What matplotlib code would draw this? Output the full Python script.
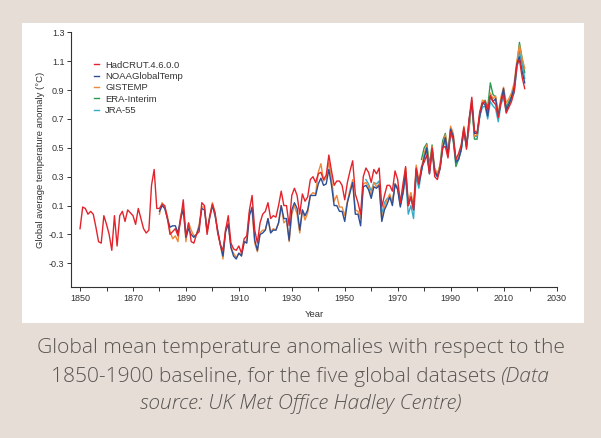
import matplotlib
matplotlib.use("Agg")
import matplotlib.pyplot as plt
from matplotlib.patches import Rectangle

# annual anomalies relative to 1850-1900 (°C)
had_years = list(range(1850, 2019))
hadcrut = [-0.06, 0.09, 0.08, 0.04, 0.06, 0.04, -0.05, -0.15, -0.16, 0.03,
           -0.03, -0.10, -0.21, 0.03, -0.18, 0.03, 0.06, -0.01, 0.07, 0.05,
           0.03, -0.03, 0.08, 0.01, -0.06, -0.09, -0.07, 0.24, 0.35, 0.08,
           0.08, 0.11, 0.10, 0.01, -0.10, -0.08, -0.06, -0.11, 0.00, 0.14,
           -0.11, -0.02, -0.15, -0.16, -0.10, -0.08, 0.12, 0.10, -0.10, 0.02,
           0.11, 0.05, -0.09, -0.17, -0.21, -0.07, 0.03, -0.16, -0.20, -0.21,
           -0.18, -0.23, -0.13, -0.11, 0.07, 0.17, -0.07, -0.16, -0.02, 0.04,
           0.06, 0.12, 0.01, 0.03, 0.02, 0.10, 0.20, 0.10, 0.10, -0.04,
           0.17, 0.22, 0.17, 0.04, 0.18, 0.13, 0.16, 0.28, 0.30, 0.26,
           0.32, 0.33, 0.28, 0.31, 0.45, 0.34, 0.24, 0.27, 0.27, 0.24,
           0.14, 0.26, 0.34, 0.41, 0.18, 0.12, 0.04, 0.30, 0.36, 0.33,
           0.26, 0.35, 0.32, 0.36, 0.09, 0.17, 0.24, 0.24, 0.20, 0.34,
           0.28, 0.12, 0.25, 0.37, 0.10, 0.16, 0.07, 0.36, 0.25, 0.37,
           0.40, 0.45, 0.32, 0.50, 0.30, 0.28, 0.36, 0.50, 0.51, 0.43,
           0.61, 0.56, 0.42, 0.46, 0.52, 0.64, 0.49, 0.70, 0.85, 0.62,
           0.60, 0.75, 0.81, 0.82, 0.76, 0.86, 0.82, 0.80, 0.71, 0.82,
           0.87, 0.74, 0.78, 0.82, 0.89, 1.07, 1.11, 0.99, 0.91]

noaa_years = list(range(1880, 2019))
noaa = [0.06, 0.10, 0.08, 0.01, -0.05, -0.04, -0.04, -0.09, 0.01, 0.07,
        -0.12, -0.06, -0.10, -0.12, -0.10, -0.05, 0.08, 0.07, -0.08, 0.02,
        0.10, 0.03, -0.07, -0.17, -0.25, -0.08, -0.03, -0.19, -0.25, -0.27,
        -0.23, -0.25, -0.15, -0.16, 0.03, 0.09, -0.14, -0.21, -0.10, -0.09,
        -0.07, 0.01, -0.09, -0.07, -0.07, -0.02, 0.10, 0.01, 0.01, -0.14,
        0.07, 0.12, 0.08, -0.07, 0.07, 0.03, 0.07, 0.17, 0.17, 0.17,
        0.25, 0.29, 0.24, 0.25, 0.35, 0.24, 0.10, 0.10, 0.06, 0.06,
        -0.01, 0.12, 0.19, 0.26, 0.04, 0.04, -0.04, 0.23, 0.24, 0.21,
        0.15, 0.23, 0.22, 0.24, -0.01, 0.07, 0.11, 0.16, 0.10, 0.25,
        0.21, 0.09, 0.19, 0.33, 0.10, 0.16, 0.07, 0.35, 0.25, 0.34,
        0.43, 0.50, 0.32, 0.49, 0.34, 0.30, 0.36, 0.50, 0.57, 0.45,
        0.63, 0.58, 0.40, 0.42, 0.49, 0.63, 0.51, 0.70, 0.81, 0.60,
        0.60, 0.72, 0.81, 0.80, 0.72, 0.86, 0.82, 0.84, 0.72, 0.82,
        0.91, 0.76, 0.80, 0.85, 0.92, 1.08, 1.13, 1.03, 0.95]

gis_years = list(range(1880, 2019))
gistemp = [0.04, 0.12, 0.09, 0.03, -0.08, -0.13, -0.11, -0.15, 0.03, 0.10,
           -0.15, -0.02, -0.07, -0.11, -0.10, -0.03, 0.09, 0.09, -0.07, 0.03,
           0.12, 0.05, -0.08, -0.17, -0.27, -0.06, -0.02, -0.19, -0.23, -0.26,
           -0.23, -0.24, -0.16, -0.14, 0.05, 0.06, -0.16, -0.22, -0.09, -0.07,
           -0.07, 0.01, -0.08, -0.06, -0.07, -0.02, 0.10, -0.02, 0.00, -0.15,
           0.04, 0.10, 0.04, -0.09, 0.07, 0.00, 0.05, 0.17, 0.19, 0.18,
           0.33, 0.39, 0.27, 0.29, 0.40, 0.29, 0.13, 0.17, 0.09, 0.09,
           0.03, 0.13, 0.21, 0.28, 0.07, 0.06, 0.01, 0.25, 0.26, 0.23,
           0.17, 0.26, 0.23, 0.25, 0.00, 0.09, 0.14, 0.18, 0.12, 0.25,
           0.23, 0.12, 0.21, 0.36, 0.13, 0.19, 0.10, 0.38, 0.27, 0.36,
           0.46, 0.52, 0.34, 0.51, 0.36, 0.32, 0.38, 0.52, 0.59, 0.47,
           0.65, 0.60, 0.42, 0.43, 0.51, 0.65, 0.53, 0.66, 0.81, 0.58,
           0.59, 0.74, 0.83, 0.82, 0.73, 0.88, 0.84, 0.86, 0.74, 0.85,
           0.92, 0.81, 0.84, 0.88, 0.95, 1.10, 1.21, 1.12, 1.05]

era_years = list(range(1979, 2019))
era = [0.42, 0.50, 0.53, 0.38, 0.52, 0.33, 0.31, 0.38, 0.55, 0.60,
       0.46, 0.63, 0.55, 0.37, 0.42, 0.49, 0.62, 0.52, 0.64, 0.82,
       0.56, 0.56, 0.72, 0.80, 0.83, 0.78, 0.95, 0.87, 0.85, 0.71,
       0.82, 0.88, 0.78, 0.82, 0.86, 0.90, 1.06, 1.23, 1.12, 1.02]

jra_years = list(range(1958, 2019))
jra = [0.28, 0.25, 0.20, 0.26, 0.25, 0.27, 0.04, 0.12, 0.15, 0.15,
       0.13, 0.24, 0.22, 0.10, 0.18, 0.29, 0.04, 0.10, 0.01, 0.30,
       0.22, 0.34, 0.44, 0.48, 0.33, 0.48, 0.32, 0.30, 0.35, 0.50,
       0.55, 0.44, 0.60, 0.55, 0.40, 0.42, 0.48, 0.62, 0.50, 0.65,
       0.83, 0.58, 0.58, 0.72, 0.78, 0.79, 0.70, 0.82, 0.79, 0.77,
       0.68, 0.80, 0.85, 0.75, 0.80, 0.84, 0.88, 1.04, 1.17, 1.08, 0.98]

series = [
    ("HadCRUT.4.6.0.0", had_years, hadcrut, "#e3232b"),
    ("NOAAGlobalTemp", noaa_years, noaa, "#2b4e96"),
    ("GISTEMP", gis_years, gistemp, "#ef8838"),
    ("ERA-Interim", era_years, era, "#2c9a52"),
    ("JRA-55", jra_years, jra, "#36a9c9"),
]
draw_order = [3, 4, 2, 1, 0]

W, H = 601, 438
fig = plt.figure(figsize=(W / 100, H / 100), dpi=100)
fig.patch.set_facecolor("#e7ddd7")

# white panel behind the chart
fig.patches.append(Rectangle((22 / W, 1 - 323 / H), 562 / W, 300 / H,
                             transform=fig.transFigure, facecolor="white",
                             edgecolor="none", zorder=-5))

ax = fig.add_axes([71.3 / W, 1 - 287.3 / H, 485.2 / W, 255 / H])
ax.set_facecolor("none")
ax.set_zorder(2)

lines = {}
for i in draw_order:
    name, yrs, vals, col = series[i]
    lines[i], = ax.plot(yrs, vals, color=col, lw=1.0, label=name)

ax.set_xlim(1846.7, 2030)
ax.set_ylim(-0.466, 1.3)
ax.set_xticks(range(1850, 2031, 20))
ax.set_xticks(range(1860, 2031, 20), minor=True)
ax.set_yticks([1.3, 1.1, 0.9, 0.7, 0.5, 0.3, 0.1, -0.1, -0.3])
ax.set_yticklabels(["1.3", "1.1", "0.9", "0.7", "0.5", "0.3", "0.1", "-0.1", "-0.3"])

for s in ["top", "right"]:
    ax.spines[s].set_visible(False)
for s in ["left", "bottom"]:
    ax.spines[s].set_color("#333333")
    ax.spines[s].set_linewidth(0.8)

fnt = "Liberation Sans"
ax.tick_params(axis="both", which="both", length=3, width=0.7, color="#333333",
               labelsize=6.5, labelcolor="#333333", pad=2)
for lab in ax.get_xticklabels() + ax.get_yticklabels():
    lab.set_fontfamily(fnt)

ax.set_xlabel("Year", fontsize=6.8, color="#333333", fontfamily=fnt, labelpad=5)
ax.set_ylabel("Global average temperature anomaly (\u00b0C)", fontsize=6.8,
              color="#333333", fontfamily=fnt, labelpad=3)

leg = ax.legend([lines[i] for i in range(5)], [s[0] for s in series],
                loc="upper left", bbox_to_anchor=(89 / W, 1 - 56 / H),
                bbox_transform=fig.transFigure, frameon=False,
                handlelength=0.6, handletextpad=0.6, labelspacing=0.25,
                prop={"family": fnt, "size": 6.8}, borderpad=0)
for t in leg.get_texts():
    t.set_color("#333333")

# caption
cap = "#575451"
cfont = {"family": "Open Sans", "weight": "light", "size": 15.1}
fig.text(0.5, 1 - 348 / H, "Global mean temperature anomalies with respect to the",
         ha="center", va="center", color=cap, **cfont)
t1 = fig.text(0, 1 - 377 / H, "1850-1900 baseline, for the five global datasets ",
              ha="left", va="center", color=cap, **cfont)
t2 = fig.text(0, 1 - 377 / H, "(Data", ha="left", va="center", color=cap,
              style="italic", **cfont)
fig.text(0.5, 1 - 404 / H, "source: UK Met Office Hadley Centre)",
         ha="center", va="center", color=cap, style="italic", **cfont)

fig.canvas.draw()
r = fig.canvas.get_renderer()
w1 = t1.get_window_extent(r).width
w2 = t2.get_window_extent(r).width
x0 = (W - w1 - w2) / 2
t1.set_x(x0 / W)
t2.set_x((x0 + w1) / W)

fig.savefig("out.png", dpi=100, facecolor=fig.get_facecolor())
